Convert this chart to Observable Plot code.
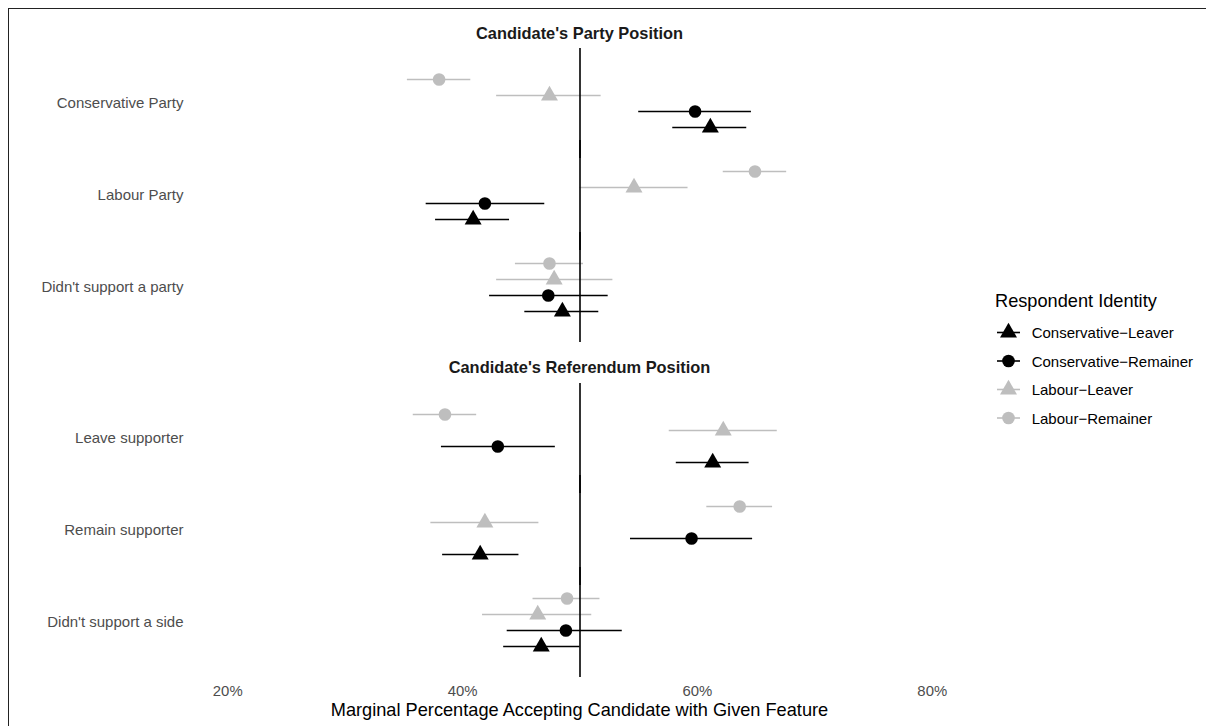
<!DOCTYPE html>
<html><head><meta charset="utf-8">
<script src="https://cdn.jsdelivr.net/npm/d3@7"></script>
<script src="https://cdn.jsdelivr.net/npm/@observablehq/plot@0.6"></script>
<style>
body{margin:0;background:#fff;}
#wrap{position:relative;width:1206px;height:726px;overflow:hidden;font-family:"Liberation Sans",Arial,Helvetica,sans-serif;background:#fff;}
#frame{position:absolute;left:7.5px;top:7.5px;width:1220px;height:740px;border-top:1.5px solid #222;border-left:1.5px solid #222;}
.abs{position:absolute;left:0;}
#overlay{position:absolute;left:0;top:0;pointer-events:none;}
</style></head><body>
<div id="wrap">
  <div id="frame"></div>
  <div id="p1" class="abs" style="top:0px"></div>
  <div id="p2" class="abs" style="top:335px"></div>
  <svg id="overlay" width="1206" height="726"></svg>
</div>
<script>
// ---- data ----
const groups = ["Conservative−Leaver", "Conservative−Remainer", "Labour−Leaver", "Labour−Remainer"];
const groupColors = ["#000000", "#000000", "#bebebe", "#bebebe"];
const groupSymbols = ["triangle", "circle", "triangle", "circle"];

const partyCats = ["Conservative Party", "Labour Party", "Didn't support a party"];
const refCats = ["Leave supporter", "Remain supporter", "Didn't support a side"];

// rows = groups (in order above), columns = categories
const partyEst  = [[61.1, 40.9, 48.5], [59.8, 41.9, 47.3], [47.4, 54.6, 47.8], [38.0, 64.9, 47.4]];
const partyLow  = [[57.9, 37.7, 45.3], [55.0, 36.9, 42.3], [42.9, 50.0, 42.9], [35.3, 62.2, 44.5]];
const partyHigh = [[64.2, 44.0, 51.6], [64.6, 47.0, 52.4], [51.8, 59.2, 52.8], [40.7, 67.6, 50.3]];

const refEst  = [[61.3, 41.5, 46.7], [43.0, 59.5, 48.8], [62.2, 41.9, 46.4], [38.5, 63.6, 48.9]];
const refLow  = [[58.2, 38.3, 43.5], [38.2, 54.3, 43.8], [57.6, 37.3, 41.7], [35.8, 60.8, 46.0]];
const refHigh = [[64.4, 44.8, 50.0], [47.9, 64.7, 53.6], [66.8, 46.5, 51.0], [41.2, 66.4, 51.7]];

const xTicks = [20, 40, 60, 80];
const refLine = [50];
const xDomain = [17, 83];

const panelTitles = ["Candidate's Party Position", "Candidate's Referendum Position"];
const xTitle = "Marginal Percentage Accepting Candidate with Given Feature";
const legendTitle = "Respondent Identity";

// ---- build tables ----
function table(cats, est, low, high) {
  const rows = [];
  groups.forEach((g, i) => cats.forEach((c, j) => rows.push({group: g, category: c, est: est[i][j], low: low[i][j], high: high[i][j]})));
  return rows;
}
const partyData = table(partyCats, partyEst, partyLow, partyHigh);
const refData = table(refCats, refEst, refLow, refHigh);

const FONT = '"Liberation Sans", Arial, Helvetica, sans-serif';
const yOrder = groups.slice().reverse();

function panel(cats, data, height, marginBottom, withX) {
  const marks = [
    Plot.ruleY(data, {y: "group", x1: "low", x2: "high", fy: "category", stroke: "group", strokeWidth: 1.6}),
    Plot.ruleX(refLine, {stroke: "#000", strokeWidth: 1.6, insetTop: -9, insetBottom: -9}),
    Plot.dot(data, {x: "est", y: "group", fy: "category", fill: "group", symbol: "group", r: 6.3}),
    Plot.axisFy({anchor: "left", tickSize: 0, tickPadding: 9, fontSize: 15, color: "#4d4d4d", label: null})
  ];
  if (withX) marks.push(Plot.axisX({ticks: xTicks, tickFormat: d => d + "%", tickSize: 0, tickPadding: 17, fontSize: 14.9, color: "#4d4d4d", label: null}));
  return Plot.plot({
    width: 1206, height, marginLeft: 192, marginRight: 239, marginTop: 57, marginBottom,
    x: {domain: xDomain, axis: withX ? undefined : null},
    y: {type: "point", domain: yOrder, padding: 1.206, axis: null},
    fy: {domain: cats, padding: 0},
    color: {domain: groups, range: groupColors},
    symbol: {domain: groups, range: groupSymbols},
    style: {fontFamily: FONT, background: "transparent", overflow: "visible"},
    marks
  });
}

document.getElementById("p1").append(panel(partyCats, partyData, 345, 12, false));
document.getElementById("p2").append(panel(refCats, refData, 391, 58, true));

// ---- overlay texts & legend ----
const ov = d3.select("#overlay").style("font-family", FONT);
const titleY = [39, 372.7];
panelTitles.forEach((t, i) => ov.append("text").attr("x", 579.5).attr("y", titleY[i])
  .attr("text-anchor", "middle").attr("font-weight", "bold").attr("font-size", 16.4).attr("fill", "#1a1a1a").text(t));
ov.append("text").attr("x", 579.5).attr("y", 716).attr("text-anchor", "middle")
  .attr("font-size", 18.2).attr("fill", "#000").text(xTitle);

ov.append("text").attr("x", 995).attr("y", 306.7).attr("font-size", 18.2).attr("fill", "#000").text(legendTitle);
const rowY = [332.5, 361, 389.5, 418];
const symSize = Math.PI * 6.3 * 6.3;
groups.forEach((g, i) => {
  const gg = ov.append("g").attr("transform", `translate(1008.5,${rowY[i]})`);
  gg.append("line").attr("x1", -11.5).attr("x2", 11.5).attr("stroke", groupColors[i]).attr("stroke-width", 1.6);
  gg.append("path").attr("d", d3.symbol(groupSymbols[i] === "triangle" ? d3.symbolTriangle : d3.symbolCircle, symSize)())
    .attr("fill", groupColors[i]);
  ov.append("text").attr("x", 1031.7).attr("y", rowY[i] + 5.6).attr("font-size", 15).attr("fill", "#000").text(g);
});
</script>
</body></html>
